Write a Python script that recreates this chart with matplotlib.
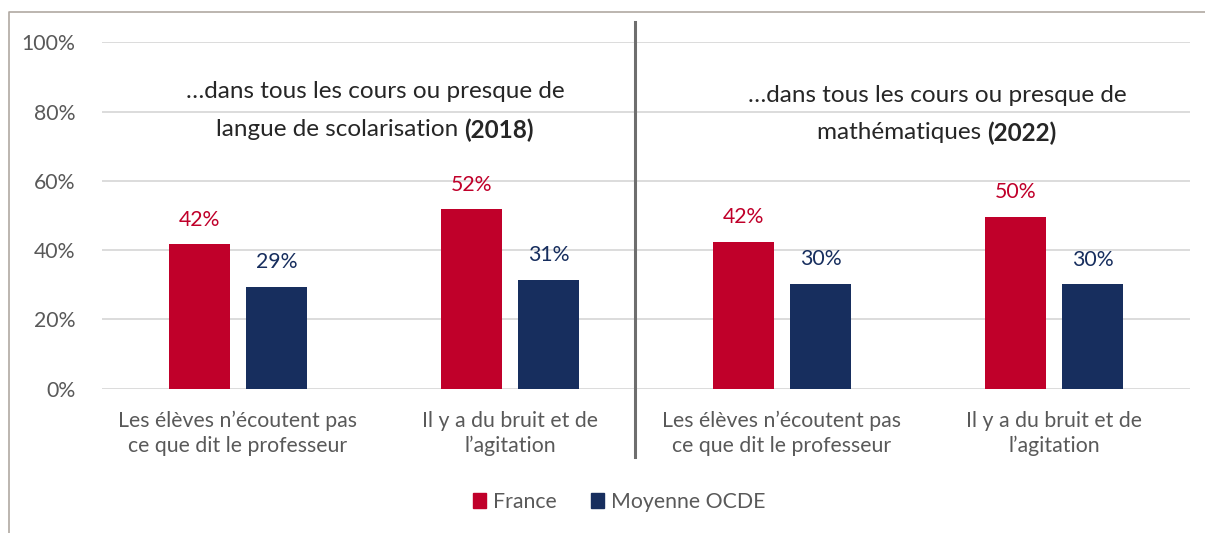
import matplotlib.pyplot as plt
from matplotlib.lines import Line2D
from matplotlib.patches import Patch
import numpy as np

# Données
categories = ["Les élèves n\u2019écoutent pas\nce que dit le professeur",
              "Il y a du bruit et de\nl\u2019agitation",
              "Les élèves n\u2019écoutent pas\nce que dit le professeur",
              "Il y a du bruit et de\nl\u2019agitation"]
france = [41.7, 51.8, 42.4, 49.6]
ocde = [29.4, 31.4, 30.3, 30.2]
france_labels = ["42%", "52%", "42%", "50%"]
ocde_labels = ["29%", "31%", "30%", "30%"]
yticks = [0, 20, 40, 60, 80, 100]

ROUGE = '#C0002A'
BLEU = '#172E5E'
GRIS = '#595959'
FS = 15.3

plt.rcParams['font.family'] = ['Lato', 'DejaVu Sans']

W, H = 1205, 533
fig = plt.figure(figsize=(W / 100, H / 100), dpi=100)
ax = fig.add_axes([102 / W, 1 - 388.7 / H, 1088 / W, (388.7 - 42.3) / H])

x = np.arange(len(categories))
bw = 0.222
off = 0.1415
ax.bar(x - off, france, bw, color=ROUGE, zorder=3)
ax.bar(x + off, ocde, bw, color=BLEU, zorder=3)

for i in range(len(categories)):
    ax.text(x[i] - off, france[i] + 4.2, france_labels[i], ha='center', va='bottom',
            color=ROUGE, fontsize=FS)
    ax.text(x[i] + off, ocde[i] + 4.2, ocde_labels[i], ha='center', va='bottom',
            color=BLEU, fontsize=FS)

ax.set_xlim(-0.5, 3.5)
ax.set_ylim(0, 100)
ax.set_yticks(yticks)
ax.set_yticklabels([f"{v}%" for v in yticks], color=GRIS, fontsize=FS)
ax.set_xticks(x)
ax.set_xticklabels(categories, color=GRIS, fontsize=FS, linespacing=1.3)
ax.tick_params(axis='both', length=0)
ax.tick_params(axis='y', pad=19)
ax.tick_params(axis='x', pad=16)
ax.grid(axis='y', color='#d9d9d9', linewidth=1.3, zorder=0)
for s in ax.spines.values():
    s.set_visible(False)

# séparateur vertical
fig.add_artist(Line2D([635 / W, 635 / W], [1 - 22 / H, 1 - 457 / H], color='#6e6e6e', linewidth=2.2))

# cadre partiel
fig.add_artist(Line2D([9 / W, 9 / W, 1], [0, 1 - 12 / H, 1 - 12 / H], color='#b0a9a2', linewidth=1.2))

# titres de panneaux
fig.canvas.draw()
r = fig.canvas.get_renderer()


def titre(cx, y1, y2, l1, l2, gras):
    fig.text(cx / W, 1 - y1 / H, l1, ha='center', va='center', fontsize=17.5, color='#262626')
    t1 = fig.text(0, 1 - y2 / H, l2, ha='left', va='center', fontsize=17.5, color='#262626')
    t2 = fig.text(0, 1 - y2 / H, gras, ha='left', va='center', fontsize=17.5, color='#262626',
                  fontweight='bold')
    w1 = t1.get_window_extent(r).width
    w2 = t2.get_window_extent(r).width
    x0 = cx - (w1 + w2) / 2
    t1.set_x(x0 / W)
    t2.set_x((x0 + w1) / W)


titre(375, 92, 130, "\u2026dans tous les cours ou presque de", "langue de scolarisation ", "(2018)")
titre(937, 96, 133, "\u2026dans tous les cours ou presque de", "mathématiques ", "(2022)")

handles = [Patch(color=ROUGE, label='France'), Patch(color=BLEU, label='Moyenne OCDE')]
fig.legend(handles=handles, loc='center', bbox_to_anchor=(619 / W, 1 - 502 / H), ncol=2,
           frameon=False, fontsize=FS, labelcolor=GRIS, handlelength=0.65, handleheight=0.65,
           handletextpad=0.3, columnspacing=1.6)

fig.savefig('out.png', dpi=100)
